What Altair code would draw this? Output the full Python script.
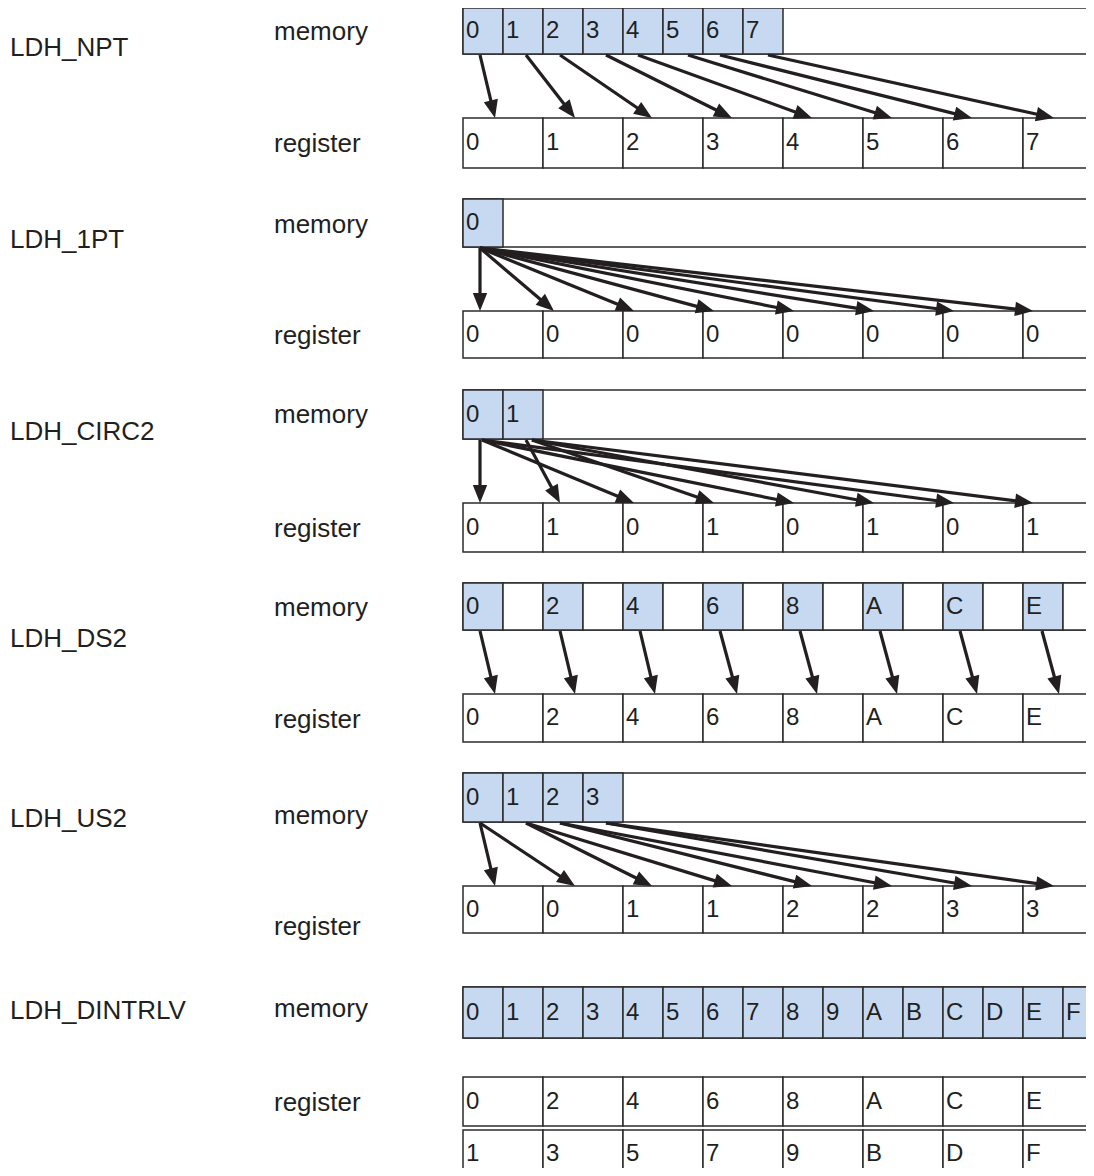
import math
import altair as alt
import pandas as pd

# ---------------- data ----------------
row_names = ["LDH_NPT", "LDH_1PT", "LDH_CIRC2", "LDH_DS2", "LDH_US2", "LDH_DINTRLV"]
title_y = [48, 240, 432, 639, 819, 1011]
memory_label_y = [32, 225, 415, 608, 816, 1009]
register_label_y = [144, 336, 529, 720, 927, 1103]

mem_top = [8, 199, 390, 583, 773, 987]
mem_bot = [54, 247, 439, 630, 822, 1038]
reg_top = [118, 311, 503, 694, 886, 1077]
reg_bot = [168, 358, 552, 742, 933, 1126]

mem_labels = [
    ["0", "1", "2", "3", "4", "5", "6", "7"],
    ["0"],
    ["0", "1"],
    ["0", "", "2", "", "4", "", "6", "", "8", "", "A", "", "C", "", "E", ""],
    ["0", "1", "2", "3"],
    ["0", "1", "2", "3", "4", "5", "6", "7", "8", "9", "A", "B", "C", "D", "E", "F"],
]
reg_labels = [
    ["0", "1", "2", "3", "4", "5", "6", "7"],
    ["0", "0", "0", "0", "0", "0", "0", "0"],
    ["0", "1", "0", "1", "0", "1", "0", "1"],
    ["0", "2", "4", "6", "8", "A", "C", "E"],
    ["0", "0", "1", "1", "2", "2", "3", "3"],
    ["0", "2", "4", "6", "8", "A", "C", "E"],
]
# second register line of LDH_DINTRLV
reg2_labels = ["1", "3", "5", "7", "9", "B", "D", "F"]
reg2_top = 1130
reg2_bot = 1182

# arrows: start x on memory bottom, tip x on register top (per row)
arrow_src = [
    [480, 526, 560, 606, 638, 688, 720, 768],
    [480, 480, 480, 480, 480, 480, 480, 480],
    [480, 526, 482, 532, 482, 532, 482, 532],
    [480, 560, 640, 720, 800, 880, 960, 1042],
    [480, 480, 526, 526, 560, 560, 606, 606],
    [],
]
arrow_tip = [
    [495, 575, 652, 732, 812, 892, 972, 1054],
    [480, 554, 634, 714, 794, 874, 954, 1033],
    [480, 560, 634, 714, 794, 874, 954, 1033],
    [495, 575, 655, 737, 817, 897, 977, 1059],
    [495, 575, 652, 732, 812, 892, 972, 1054],
    [],
]

# ---------------- layout / style ----------------
X0 = 463
MEM_W = 40
REG_W = 80
RIGHT = 1110
BLUE = "#c6d9f0"
INK = "#231f20"
EDGE = "#2b2b2b"
FONT = "Liberation Sans"
HEAD_LEN = 18

W, H = 1078, 1160
xs = alt.Scale(domain=[8, 8 + W])
ys = alt.Scale(domain=[8, 8 + H], reverse=True)

# ---------------- tables ----------------
outer = pd.DataFrame({"x": [X0] * 6, "x2": [RIGHT] * 6, "y": mem_top, "y2": mem_bot})

mem_rows = []
for r, labs in enumerate(mem_labels):
    for i, lab in enumerate(labs):
        mem_rows.append({
            "x": X0 + i * MEM_W, "x2": X0 + (i + 1) * MEM_W,
            "y": mem_top[r], "y2": mem_bot[r],
            "fill": BLUE if lab != "" else "white", "label": lab,
            "ty": (mem_top[r] + mem_bot[r]) / 2,
        })
mem_df = pd.DataFrame(mem_rows)

reg_rows = []
for r, labs in enumerate(reg_labels):
    for i, lab in enumerate(labs):
        reg_rows.append({
            "x": X0 + i * REG_W, "x2": X0 + (i + 1) * REG_W,
            "y": reg_top[r], "y2": reg_bot[r], "label": lab,
            "ty": (reg_top[r] + reg_bot[r]) / 2,
        })
for i, lab in enumerate(reg2_labels):
    reg_rows.append({
        "x": X0 + i * REG_W, "x2": X0 + (i + 1) * REG_W,
        "y": reg2_top, "y2": reg2_bot, "label": lab,
        "ty": reg2_top + 24,
    })
reg_df = pd.DataFrame(reg_rows)

arr_rows = []
for r in range(len(row_names)):
    for sx, tx in zip(arrow_src[r], arrow_tip[r]):
        sy, ty = mem_bot[r] + 1, reg_top[r]
        dx, dy = tx - sx, ty - sy
        L = math.hypot(dx, dy)
        ux, uy = dx / L, dy / L
        arr_rows.append({
            "sx": sx, "sy": sy, "tx": tx, "ty": ty,
            "ex": tx - (HEAD_LEN - 3) * ux, "ey": ty - (HEAD_LEN - 3) * uy,
            "angle": math.degrees(math.atan2(-dx, dy)) % 360,
        })
arr_df = pd.DataFrame(arr_rows)

labels_rows = []
for r, name in enumerate(row_names):
    labels_rows.append({"x": 10, "y": title_y[r], "text": name})
    labels_rows.append({"x": 274, "y": memory_label_y[r], "text": "memory"})
    labels_rows.append({"x": 274, "y": register_label_y[r], "text": "register"})
lab_df = pd.DataFrame(labels_rows)

# ---------------- marks ----------------
def X(f):
    return alt.X(f + ":Q", scale=xs, axis=None)

def Y(f):
    return alt.Y(f + ":Q", scale=ys, axis=None)

outer_layer = alt.Chart(outer).mark_rect(
    fill="white", stroke=EDGE, strokeWidth=1.5, clip=True
).encode(x=X("x"), x2="x2", y=Y("y"), y2="y2")

mem_layer = alt.Chart(mem_df).mark_rect(stroke=EDGE, strokeWidth=1.5, clip=True).encode(
    x=X("x"), x2="x2", y=Y("y"), y2="y2",
    fill=alt.Fill("fill:N", scale=None),
)

reg_layer = alt.Chart(reg_df).mark_rect(
    fill="white", stroke=EDGE, strokeWidth=1.5, clip=True
).encode(x=X("x"), x2="x2", y=Y("y"), y2="y2")

mem_text = alt.Chart(mem_df).mark_text(
    align="left", baseline="middle", font=FONT, fontSize=24, color=INK, dx=3
).encode(x=X("x"), y=Y("ty"), text="label:N")

reg_text = alt.Chart(reg_df).mark_text(
    align="left", baseline="middle", font=FONT, fontSize=24, color=INK, dx=3
).encode(x=X("x"), y=Y("ty"), text="label:N")

shafts = alt.Chart(arr_df).mark_rule(color=INK, strokeWidth=3.2, strokeCap="butt").encode(
    x=X("sx"), y=Y("sy"), x2="ex", y2="ey"
)

heads = alt.Chart(arr_df).mark_point(
    shape="M0,0L-0.4,-1L0.4,-1Z", filled=True, size=(2 * HEAD_LEN) ** 2,
    color=INK, opacity=1, strokeWidth=0,
).encode(x=X("tx"), y=Y("ty"), angle=alt.Angle("angle:Q", scale=None))

names = alt.Chart(lab_df).mark_text(
    align="left", baseline="middle", font=FONT, fontSize=26, color=INK
).encode(x=X("x"), y=Y("y"), text="text:N")

chart = alt.layer(
    outer_layer, mem_layer, reg_layer, shafts, heads, mem_text, reg_text, names
).properties(
    width=W, height=H, padding=0, background="white",
    autosize=alt.AutoSizeParams(type="none"),
).configure_view(stroke=None, strokeWidth=0)

chart.save("out.html", embed_options={"renderer": "svg", "actions": False})
